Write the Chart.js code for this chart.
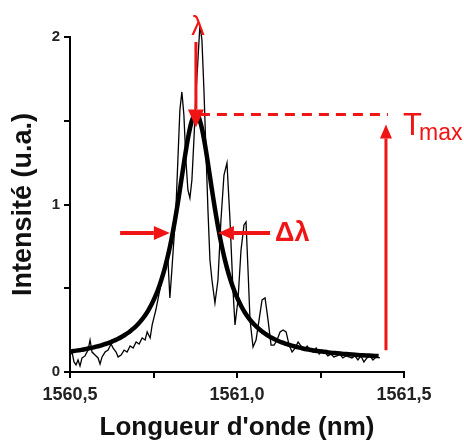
<!DOCTYPE html>
<html>
<head>
<meta charset="utf-8">
<script src="https://cdn.jsdelivr.net/npm/chart.js@4.4.0/dist/chart.umd.min.js"></script>
<style>
  html, body { margin: 0; padding: 0; background: #fff; }
</style>
</head>
<body>
<canvas id="grafico" width="464" height="444"></canvas>
<script>
// Courbe ajustée (Lorentzienne)
const fitX = [1560.500, 1560.504, 1560.514, 1560.524, 1560.534, 1560.544, 1560.554, 1560.564, 1560.574, 1560.584,
  1560.594, 1560.604, 1560.614, 1560.624, 1560.634, 1560.644, 1560.654, 1560.664, 1560.674, 1560.684,
  1560.694, 1560.704, 1560.714, 1560.724, 1560.734, 1560.744, 1560.754, 1560.764, 1560.774, 1560.784,
  1560.794, 1560.804, 1560.814, 1560.824, 1560.834, 1560.844, 1560.854, 1560.864, 1560.874, 1560.884,
  1560.894, 1560.904, 1560.914, 1560.924, 1560.934, 1560.944, 1560.954, 1560.964, 1560.974, 1560.984,
  1560.994, 1561.004, 1561.014, 1561.024, 1561.034, 1561.044, 1561.054, 1561.064, 1561.074, 1561.084,
  1561.094, 1561.104, 1561.114, 1561.124, 1561.134, 1561.144, 1561.154, 1561.164, 1561.174, 1561.184,
  1561.194, 1561.214, 1561.234, 1561.254, 1561.274, 1561.294, 1561.314, 1561.334, 1561.354, 1561.374,
  1561.394, 1561.414, 1561.424];
const fitY = [0.121, 0.123, 0.126, 0.129, 0.132, 0.136, 0.140, 0.144, 0.149, 0.154,
  0.159, 0.166, 0.172, 0.180, 0.189, 0.198, 0.209, 0.221, 0.234, 0.250,
  0.267, 0.287, 0.310, 0.336, 0.367, 0.403, 0.445, 0.494, 0.553, 0.621,
  0.701, 0.795, 0.903, 1.023, 1.154, 1.285, 1.404, 1.494, 1.538, 1.526,
  1.462, 1.359, 1.233, 1.101, 0.974, 0.858, 0.756, 0.668, 0.592, 0.528,
  0.474, 0.428, 0.388, 0.354, 0.325, 0.300, 0.279, 0.260, 0.243, 0.229,
  0.216, 0.204, 0.194, 0.185, 0.177, 0.170, 0.163, 0.157, 0.152, 0.147,
  0.142, 0.134, 0.127, 0.122, 0.117, 0.113, 0.109, 0.106, 0.103, 0.100,
  0.098, 0.096, 0.095];

// Spectre mesuré (trace fine)
const noisyX = [1560.500, 1560.506, 1560.512, 1560.518, 1560.524, 1560.530, 1560.536, 1560.545, 1560.554, 1560.560,
  1560.566, 1560.575, 1560.584, 1560.590, 1560.596, 1560.605, 1560.614, 1560.623, 1560.629, 1560.638,
  1560.644, 1560.653, 1560.662, 1560.671, 1560.680, 1560.689, 1560.698, 1560.707, 1560.716, 1560.725,
  1560.731, 1560.740, 1560.746, 1560.751, 1560.757, 1560.763, 1560.769, 1560.775, 1560.781, 1560.787,
  1560.793, 1560.799, 1560.805, 1560.811, 1560.817, 1560.823, 1560.829, 1560.835, 1560.841, 1560.847,
  1560.853, 1560.859, 1560.865, 1560.871, 1560.877, 1560.883, 1560.889, 1560.895, 1560.901, 1560.907,
  1560.913, 1560.919, 1560.925, 1560.934, 1560.943, 1560.952, 1560.961, 1560.970, 1560.979, 1560.988,
  1560.994, 1561.003, 1561.012, 1561.021, 1561.027, 1561.033, 1561.039, 1561.048, 1561.057, 1561.066,
  1561.075, 1561.084, 1561.093, 1561.102, 1561.111, 1561.120, 1561.129, 1561.138, 1561.147, 1561.156,
  1561.165, 1561.174, 1561.183, 1561.192, 1561.201, 1561.210, 1561.219, 1561.228, 1561.237, 1561.246,
  1561.254, 1561.263, 1561.272, 1561.281, 1561.290, 1561.299, 1561.308, 1561.317, 1561.326, 1561.335,
  1561.344, 1561.353, 1561.362, 1561.371, 1561.380, 1561.389, 1561.398, 1561.407, 1561.416, 1561.428];
const noisyY = [0.101, 0.119, 0.060, 0.042, 0.072, 0.036, 0.084, 0.096, 0.131, 0.191,
  0.119, 0.101, 0.084, 0.048, 0.090, 0.119, 0.131, 0.167, 0.143, 0.119,
  0.090, 0.101, 0.131, 0.119, 0.155, 0.143, 0.179, 0.167, 0.203, 0.191,
  0.239, 0.203, 0.281, 0.322, 0.370, 0.430, 0.490, 0.549, 0.609, 0.657,
  0.681, 0.442, 0.609, 0.788, 0.967, 1.266, 1.564, 1.672, 1.534, 1.266,
  1.087, 1.039, 1.146, 1.385, 1.654, 1.863, 2.072, 1.982, 1.684, 1.325,
  0.967, 0.669, 0.549, 0.412, 0.549, 0.907, 1.176, 1.248, 0.907, 0.490,
  0.281, 0.430, 0.728, 0.878, 0.896, 0.609, 0.310, 0.149, 0.191, 0.310,
  0.430, 0.442, 0.310, 0.161, 0.161, 0.191, 0.239, 0.251, 0.239, 0.161,
  0.119, 0.143, 0.179, 0.155, 0.131, 0.155, 0.131, 0.119, 0.143, 0.107,
  0.131, 0.119, 0.096, 0.107, 0.090, 0.096, 0.107, 0.084, 0.096, 0.090,
  0.084, 0.096, 0.072, 0.096, 0.060, 0.084, 0.096, 0.072, 0.090, 0.084];

// Repères des annotations (en unités des axes)
const lambdaPic = 1560.877;
const tMax = 1.538;
const demiHauteur = 0.83;
const fwhmGauche = 1560.799;
const fwhmDroite = 1560.943;
const tMaxX = 1561.446;

const rouge = '#f01414';

function fleche(ctx, x1, y1, x2, y2, tete, demiLarg) {
    const a = Math.atan2(y2 - y1, x2 - x1);
    const bx = x2 - tete * Math.cos(a), by = y2 - tete * Math.sin(a);
    ctx.beginPath();
    ctx.moveTo(x1, y1);
    ctx.lineTo(bx, by);
    ctx.stroke();
    ctx.beginPath();
    ctx.moveTo(x2, y2);
    ctx.lineTo(bx + demiLarg * Math.sin(a), by - demiLarg * Math.cos(a));
    ctx.lineTo(bx - demiLarg * Math.sin(a), by + demiLarg * Math.cos(a));
    ctx.closePath();
    ctx.fill();
}

// Dessin des flèches et textes rouges
const annotations = {
    id: 'annotations',
    afterDatasetsDraw(chart) {
        const { ctx, scales: { x, y } } = chart;
        const px = v => x.getPixelForValue(v);
        const py = v => y.getPixelForValue(v);
        ctx.save();
        ctx.strokeStyle = rouge;
        ctx.fillStyle = rouge;

        // ligne pointillée Tmax
        ctx.lineWidth = 3;
        ctx.setLineDash([10, 7]);
        ctx.beginPath();
        ctx.moveTo(px(lambdaPic) + 4, py(tMax));
        ctx.lineTo(px(tMaxX) + 2, py(tMax));
        ctx.stroke();
        ctx.setLineDash([]);

        // flèche verticale Tmax
        ctx.lineWidth = 3;
        fleche(ctx, px(tMaxX), py(0.13), px(tMaxX), py(tMax) + 10, 14, 6);

        // flèche lambda
        fleche(ctx, px(lambdaPic), py(1.97), px(lambdaPic), py(tMax) + 13, 18, 8);

        // flèches delta lambda
        ctx.lineWidth = 4;
        fleche(ctx, px(1560.650), py(demiHauteur), px(fwhmGauche), py(demiHauteur), 16, 7);
        fleche(ctx, px(1561.099), py(demiHauteur), px(fwhmDroite), py(demiHauteur), 16, 7);

        // textes
        ctx.textBaseline = 'alphabetic';
        ctx.textAlign = 'center';
        ctx.font = '27px "Liberation Sans", Arial, sans-serif';
        ctx.fillText('λ', px(lambdaPic) + 2, py(2.07) + 10);

        ctx.textAlign = 'left';
        ctx.textBaseline = 'middle';
        ctx.font = 'bold 27px "Liberation Sans", Arial, sans-serif';
        ctx.fillText('Δλ', px(1561.114), py(demiHauteur) + 1);

        ctx.textBaseline = 'alphabetic';
        ctx.font = '31px "Liberation Sans", Arial, sans-serif';
        ctx.fillText('T', px(1561.497), py(1.415));
        ctx.font = '23px "Liberation Sans", Arial, sans-serif';
        ctx.fillText('max', px(1561.497) + 16, py(1.385));
        ctx.restore();
    }
};

const ctx = document.getElementById('grafico').getContext('2d');

const chart = new Chart(ctx, {
    type: 'line',
    data: {
        datasets: [{
            label: 'Ajustement',
            data: fitX.map((v, i) => ({ x: v, y: fitY[i] })),
            borderColor: '#000',
            borderWidth: 4.5,
            tension: 0.3,
            pointRadius: 0,
            clip: false
        }, {
            label: 'Mesure',
            data: noisyX.map((v, i) => ({ x: v, y: noisyY[i] })),
            borderColor: '#000',
            borderWidth: 1.3,
            tension: 0,
            pointRadius: 0,
            clip: false
        }]
    },
    options: {
        responsive: false,
        animation: false,
        devicePixelRatio: 1,
        layout: { padding: { top: 37, right: 60, left: 0, bottom: 0 } },
        plugins: { legend: { display: false }, tooltip: { enabled: false } },
        scales: {
            x: {
                type: 'linear',
                min: 1560.5,
                max: 1561.5,
                afterFit: s => { s.height = 72; },
                border: { display: true, color: '#000', width: 2 },
                grid: { drawOnChartArea: false, drawTicks: true, tickLength: 6, color: '#000', lineWidth: 2 },
                ticks: {
                    stepSize: 0.25,
                    maxRotation: 0,
                    padding: 6,
                    color: '#222',
                    font: { family: '"Liberation Sans", Arial, sans-serif', size: 18, weight: 'bold' },
                    callback: v => (Math.abs(v * 2 - Math.round(v * 2)) < 1e-6) ? v.toFixed(1).replace('.', ',') : ''
                },
                title: {
                    display: true,
                    text: "Longueur d'onde (nm)",
                    color: '#111',
                    padding: { top: 0, bottom: 3 },
                    font: { family: '"Liberation Sans", Arial, sans-serif', size: 26, weight: 'bold', lineHeight: 1 }
                }
            },
            y: {
                min: 0,
                max: 2,
                afterFit: s => { s.width = 70; },
                border: { display: true, color: '#000', width: 2 },
                grid: { drawOnChartArea: false, drawTicks: true, tickLength: 6, color: '#000', lineWidth: 2 },
                ticks: {
                    stepSize: 0.5,
                    padding: 4,
                    color: '#222',
                    font: { family: '"Liberation Sans", Arial, sans-serif', size: 15, weight: 'bold' },
                    callback: v => Number.isInteger(v) ? String(v) : ''
                },
                title: {
                    display: true,
                    text: 'Intensité (u.a.)',
                    color: '#111',
                    padding: { top: 10, bottom: 0 },
                    font: { family: '"Liberation Sans", Arial, sans-serif', size: 27, weight: 'bold', lineHeight: 1 }
                }
            }
        }
    },
    plugins: [annotations]
});
</script>
</body>
</html>
